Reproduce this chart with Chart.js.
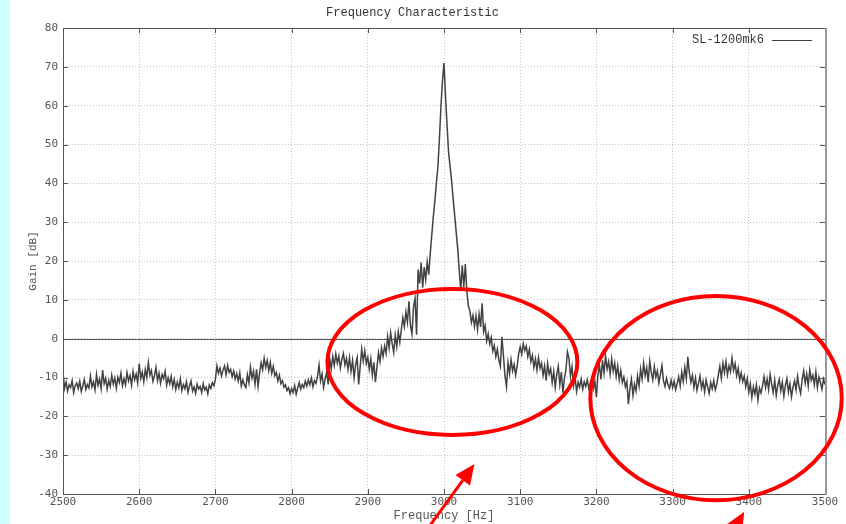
<!DOCTYPE html>
<html lang="en">
<head>
<meta charset="UTF-8">
<title>Frequency Characteristic</title>
<script src="https://cdn.jsdelivr.net/npm/chart.js"></script>
<style>
  html, body { margin: 0; padding: 0; background: #ffffff; }
  .chart-container { position: relative; width: 846px; height: 524px; }
</style>
</head>
<body>
<div class="chart-container"><canvas id="freqChart"></canvas></div>
<script>
// sampling grid of the measurement (Hz)
const freqStart = 2500;
const freqStep = 2;

const xTicks = [2500, 2600, 2700, 2800, 2900, 3000, 3100, 3200, 3300, 3400, 3500];
const yTicks = [-40, -30, -20, -10, 0, 10, 20, 30, 40, 50, 60, 70, 80];

const seriesName = 'SL-1200mk6';

// gain [dB], 10 samples (20 Hz) per row
// 2500 - 2838 Hz
const gainLow = [
  -8.5, -12.8, -11.2, -13.5, -11.9, -12.6, -10.8, -13.9, -12.1, -11.4,
  -12.9, -11.0, -13.6, -12.2, -10.5, -13.1, -11.8, -12.7, -9.6, -12.4,
  -11.1, -13.2, -9.2, -12.0, -10.4, -12.9, -8.1, -11.6, -10.2, -13.0,
  -10.8, -12.3, -9.4, -11.7, -10.1, -12.8, -9.9, -11.3, -8.9, -12.1,
  -10.3, -11.9, -8.7, -10.9, -9.5, -12.0, -8.4, -10.6, -9.1, -11.4,
  -6.4, -10.2, -8.6, -11.1, -7.9, -10.0, -6.2, -9.4, -8.2, -11.0,
  -9.6, -7.4, -10.8, -8.9, -11.5, -9.2, -10.3, -8.4, -12.0, -10.1,
  -11.6, -9.7, -12.4, -10.5, -13.1, -11.2, -12.7, -10.3, -13.4, -11.8,
  -12.9, -11.1, -13.8, -12.2, -10.9, -13.5, -12.4, -14.1, -11.7, -13.0,
  -12.3, -13.9, -11.6, -13.2, -12.5, -14.2, -11.9, -12.8, -11.3, -12.1,
  -10.4, -7.0, -8.9, -7.6, -9.6, -8.1, -7.0, -9.3, -6.9, -8.7,
  -7.9, -9.8, -8.3, -10.4, -9.0, -10.9, -8.8, -12.2, -10.6, -11.9,
  -12.6, -9.3, -11.4, -7.3, -10.2, -8.4, -11.7, -7.9, -12.3, -8.8,
  -6.2, -8.0, -5.0, -7.4, -5.6, -8.3, -6.1, -8.9, -7.1, -9.6,
  -8.7, -10.9, -9.4, -11.6, -10.8, -12.5, -11.9, -13.4, -12.6, -14.2,
  -12.8, -13.9, -12.1, -14.3, -12.7, -11.3, -13.0, -11.8, -12.6, -10.9,
  -12.2, -10.6, -11.9, -10.1, -12.4, -10.8, -11.5, -9.7, -6.8, -10.9
];
// 2840 - 3178 Hz
const gainMid = [
  -9.1, -12.6, -10.4, -8.7, -11.8, -5.2, -7.8, -4.6, -6.9, -3.9,
  -6.3, -4.5, -7.6, -5.3, -3.8, -6.8, -5.1, -7.9, -4.9, -8.4,
  -5.6, -10.1, -6.7, -4.9, -11.8, -7.2, -2.7, -5.8, -3.1, -6.4,
  -4.8, -7.9, -5.2, -9.4, -6.1, -11.2, -7.4, -3.6, -5.9, -2.4,
  -4.6, -1.9, -3.8, 0.6, -2.4, 1.5, -1.3, -3.6, 0.9, -2.1,
  1.8, -0.9, 2.3, 5.4, 3.1, 6.8, 4.2, 9.6, 3.4, 1.2,
  8.2, 10.4, 1.0, 17.8, 14.2, 19.6, 13.1, 18.4, 15.2, 19.8,
  16.5, 22.0, 26.8, 31.5, 35.4, 40.1, 44.2, 51.5, 59.8, 66.4,
  71.0, 62.3, 55.1, 48.0, 44.3, 40.6, 36.0, 31.8, 27.4, 23.2,
  17.6, 12.4, 18.9, 13.3, 19.2, 12.1, 8.4, 7.1, 4.2, 6.0,
  3.1, 5.9, 2.4, 6.3, 3.0, 9.1, 1.8, 3.4, -0.6, 1.2,
  -1.4, 0.3, -3.2, -1.8, -4.6, -2.7, -5.5, -7.1, 0.5, -4.4,
  -9.6, -12.4, -6.2, -9.0, -5.4, -8.3, -6.6, -9.4, -7.1, -3.9,
  -2.1, -4.0, -1.3, -3.1, -1.9, -4.6, -2.8, -5.9, -4.3, -7.4,
  -5.2, -8.1, -4.9, -7.6, -6.3, -9.4, -7.0, -10.8, -6.4, -9.1,
  -7.7, -11.3, -8.4, -12.6, -9.2, -7.1, -11.8, -8.6, -13.9, -10.2,
  -8.0, -3.4, -5.1, -9.7, -7.2, -12.1, -10.0, -13.6, -11.2, -12.5
];
// 3180 - 3500 Hz
const gainHigh = [
  -10.4, -13.0, -11.1, -12.3, -10.6, -12.8, -11.4, -10.2, -12.9, -11.0,
  -15.0, -9.3, -6.8, -10.5, -5.6, -8.9, -4.4, -7.8, -5.9, -9.1,
  -5.2, -8.4, -6.3, -9.7, -7.0, -10.6, -8.2, -11.3, -9.9, -12.4,
  -11.1, -16.9, -12.8, -10.4, -14.6, -11.7, -13.5, -9.6, -12.2, -7.8,
  -10.4, -6.3, -9.5, -7.4, -11.2, -5.8, -8.7, -10.6, -7.2, -9.9,
  -8.3, -11.4, -9.1, -6.9, -10.8, -12.3, -10.2, -11.9, -12.8, -10.7,
  -12.6, -10.9, -13.1, -11.5, -9.8, -12.2, -8.6, -11.0, -7.4, -10.3,
  -4.7, -8.8, -11.2, -9.4, -12.6, -10.1, -13.3, -11.5, -9.6, -12.8,
  -11.0, -13.7, -10.6, -12.4, -14.1, -11.3, -12.9, -10.8, -13.2, -11.7,
  -9.4, -7.1, -10.2, -6.3, -8.7, -5.9, -9.3, -7.0, -8.5, -5.0,
  -8.1, -6.4, -9.5, -7.6, -10.7, -8.8, -11.1, -9.6, -12.4, -10.3,
  -13.8, -11.6, -15.2, -12.4, -14.3, -11.9, -15.8, -12.7, -14.0, -12.1,
  -9.8, -12.6, -10.4, -13.1, -9.2, -11.8, -13.9, -10.7, -14.6, -12.0,
  -10.5, -13.4, -11.2, -14.8, -12.1, -10.3, -13.7, -11.6, -15.0, -12.5,
  -10.9, -13.2, -9.7, -12.4, -14.1, -10.6, -8.3, -11.5, -9.1, -12.2,
  -8.0, -10.7, -9.4, -11.9, -8.6, -12.6, -9.9, -11.3, -13.0, -10.4,
  -11.8
];

const gain = gainLow.concat(gainMid, gainHigh);
const points = gain.map((g, i) => ({ x: freqStart + i * freqStep, y: g }));

const lineColor = '#424242';
const labelColor = '#555555';

// gnuplot-like frame: zero axis, border, inward tick marks, key
const gnuplotFrame = {
  id: 'gnuplotFrame',
  beforeDraw(chart) {
    const ctx = chart.ctx;
    ctx.save();
    ctx.fillStyle = '#ccffff';
    ctx.fillRect(0, 0, 10, chart.height);
    ctx.restore();
  },
  beforeDatasetsDraw(chart) {
    const { ctx, chartArea: a, scales: { x, y } } = chart;
    ctx.save();
    // zero axis
    const y0 = Math.round(y.getPixelForValue(0)) + 0.5;
    ctx.strokeStyle = '#555555';
    ctx.lineWidth = 1;
    ctx.beginPath();
    ctx.moveTo(a.left, y0);
    ctx.lineTo(a.right, y0);
    ctx.stroke();
    // tick marks
    ctx.beginPath();
    xTicks.forEach(v => {
      const px = Math.round(x.getPixelForValue(v)) + 0.5;
      ctx.moveTo(px, a.top); ctx.lineTo(px, a.top + 5);
      ctx.moveTo(px, a.bottom); ctx.lineTo(px, a.bottom - 5);
    });
    yTicks.forEach(v => {
      const py = Math.round(y.getPixelForValue(v)) + 0.5;
      ctx.moveTo(a.left, py); ctx.lineTo(a.left + 5, py);
      ctx.moveTo(a.right, py); ctx.lineTo(a.right - 5, py);
    });
    ctx.stroke();
    ctx.restore();
  },
  afterDatasetsDraw(chart) {
    const { ctx, chartArea: a } = chart;
    ctx.save();
    // border
    ctx.lineWidth = 1;
    ctx.strokeStyle = '#555555';
    ctx.beginPath();
    ctx.moveTo(a.right, a.top + 0.5);
    ctx.lineTo(a.left + 0.5, a.top + 0.5);
    ctx.lineTo(a.left + 0.5, a.bottom + 0.5);
    ctx.lineTo(a.right, a.bottom + 0.5);
    ctx.stroke();
    ctx.strokeStyle = '#999999';
    ctx.lineWidth = 2;
    ctx.beginPath();
    ctx.moveTo(a.right + 1, a.top);
    ctx.lineTo(a.right + 1, a.bottom + 1);
    ctx.stroke();
    // key
    ctx.font = '12px "Liberation Mono", monospace';
    ctx.fillStyle = '#333333';
    ctx.textAlign = 'right';
    ctx.textBaseline = 'middle';
    ctx.fillText(seriesName, a.right - 61, a.top + 12);
    ctx.strokeStyle = lineColor;
    ctx.lineWidth = 1;
    ctx.beginPath();
    ctx.moveTo(a.right - 53, a.top + 12.5);
    ctx.lineTo(a.right - 13, a.top + 12.5);
    ctx.stroke();
    ctx.restore();
  }
};

// red hand-drawn marks on top of the screenshot (data units)
const redMarks = {
  id: 'redMarks',
  afterDraw(chart) {
    const { ctx, scales: { x, y } } = chart;
    const ellipses = [
      { cx: 3011, cy: -6, rx: 164, ry: 18.8 },
      { cx: 3357, cy: -15.3, rx: 165, ry: 26.3 }
    ];
    const arrows = [
      { from: [2982, -48], to: [3040, -32.3] },
      { from: [3378, -50], to: [3394, -44.6] }
    ];
    ctx.save();
    ctx.strokeStyle = '#ff0000';
    ctx.fillStyle = '#ff0000';
    ctx.lineWidth = 4;
    ellipses.forEach(e => {
      const cx = x.getPixelForValue(e.cx);
      const cy = y.getPixelForValue(e.cy);
      const rx = x.getPixelForValue(e.cx + e.rx) - cx;
      const ry = cy - y.getPixelForValue(e.cy + e.ry);
      ctx.beginPath();
      ctx.ellipse(cx, cy, rx, ry, 0, 0, Math.PI * 2);
      ctx.stroke();
    });
    ctx.lineWidth = 3;
    arrows.forEach(ar => {
      const x1 = x.getPixelForValue(ar.from[0]), y1 = y.getPixelForValue(ar.from[1]);
      const x2 = x.getPixelForValue(ar.to[0]), y2 = y.getPixelForValue(ar.to[1]);
      const ang = Math.atan2(y2 - y1, x2 - x1);
      const hl = 20, hw = 9;
      const bx = x2 - hl * Math.cos(ang), by = y2 - hl * Math.sin(ang);
      ctx.beginPath();
      ctx.moveTo(x1, y1);
      ctx.lineTo(bx, by);
      ctx.stroke();
      ctx.beginPath();
      ctx.moveTo(x2, y2);
      ctx.lineTo(bx + hw * Math.sin(ang), by - hw * Math.cos(ang));
      ctx.lineTo(bx - hw * Math.sin(ang), by + hw * Math.cos(ang));
      ctx.closePath();
      ctx.fill();
    });
    ctx.restore();
  }
};

const ctx = document.getElementById('freqChart').getContext('2d');
const freqChart = new Chart(ctx, {
  type: 'line',
  data: {
    datasets: [{
      label: seriesName,
      data: points,
      borderColor: lineColor,
      borderWidth: 1.5,
      pointRadius: 0,
      tension: 0,
      fill: false
    }]
  },
  options: {
    responsive: true,
    maintainAspectRatio: false,
    animation: false,
    devicePixelRatio: 1,
    layout: { padding: { top: 0.6, right: 21, left: 0, bottom: 0 } },
    scales: {
      x: {
        type: 'linear',
        min: 2500,
        max: 3500,
        afterFit: s => { s.height = 30; },
        afterBuildTicks: s => { s.ticks = xTicks.map(v => ({ value: v })); },
        ticks: {
          padding: 2,
          color: labelColor,
          font: { family: '"DejaVu Sans Mono", monospace', size: 11 },
          maxRotation: 0,
          autoSkip: false,
          callback: v => String(v)
        },
        grid: { color: '#c4c4c4', lineWidth: 1, drawTicks: false },
        border: { display: false, dash: [1, 2] },
        title: {
          display: true,
          text: 'Frequency [Hz]',
          color: labelColor,
          font: { family: '"Liberation Mono", monospace', size: 12 },
          padding: { top: 0, bottom: 1 }
        }
      },
      y: {
        min: -40,
        max: 80,
        afterFit: s => { s.width = 63; },
        afterBuildTicks: s => { s.ticks = yTicks.map(v => ({ value: v })); },
        ticks: {
          padding: 5,
          color: labelColor,
          font: { family: '"DejaVu Sans Mono", monospace', size: 11 },
          callback: v => String(v)
        },
        grid: { color: '#c4c4c4', lineWidth: 1, drawTicks: false },
        border: { display: false, dash: [1, 2] },
        title: {
          display: true,
          text: 'Gain [dB]',
          color: labelColor,
          font: { family: '"Liberation Mono", monospace', size: 11 },
          padding: { top: 26, bottom: 0 }
        }
      }
    },
    plugins: {
      legend: { display: false },
      tooltip: { enabled: false },
      title: {
        display: true,
        text: 'Frequency Characteristic',
        color: '#333333',
        font: { family: '"Liberation Mono", monospace', size: 12, weight: 'normal' },
        padding: { top: 5, bottom: 8 }
      }
    }
  },
  plugins: [gnuplotFrame, redMarks]
});
</script>
</body>
</html>
